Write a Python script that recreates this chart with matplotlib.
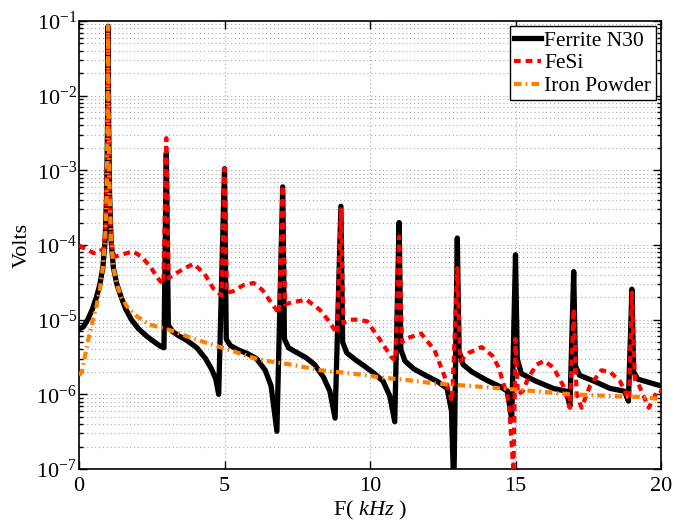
import matplotlib
matplotlib.use("Agg")
import matplotlib.pyplot as plt
from matplotlib.ticker import NullFormatter, FixedLocator, LogFormatterSciNotation

plt.rcParams['font.family'] = ['Liberation Serif', 'DejaVu Serif']
plt.rcParams['mathtext.fontset'] = 'custom'
plt.rcParams['mathtext.rm'] = 'Liberation Serif'
plt.rcParams['mathtext.it'] = 'Liberation Serif:italic'
plt.rcParams['mathtext.bf'] = 'Liberation Serif:bold'

# ---------------- data ----------------
f_ferrite = [0.00, 0.15, 0.30, 0.45, 0.60, 0.72, 0.82, 0.90, 0.95, 0.98, 1.00, 1.02, 1.05, 1.10,
             1.18, 1.30, 1.45, 1.60, 1.80, 2.05, 2.35, 2.60, 2.80, 2.92, 3.00, 3.07, 3.20, 3.45,
             3.70, 4.05, 4.35, 4.55, 4.70, 4.80, 5.00, 5.06, 5.20, 5.50, 5.80, 6.10, 6.40, 6.60,
             6.80, 7.00, 7.06, 7.20, 7.50, 7.80, 8.10, 8.40, 8.62, 8.80, 9.00, 9.06, 9.20, 9.50,
             9.80, 10.15, 10.45, 10.68, 10.85, 11.00, 11.06, 11.20, 11.50, 11.90, 12.30, 12.65,
             12.80, 12.88, 13.00, 13.06, 13.20, 13.50, 14.00, 14.50, 14.72, 14.87, 15.00, 15.06,
             15.20, 15.70, 16.30, 16.75, 16.87, 17.00, 17.06, 17.20, 17.70, 18.25, 18.75, 18.88,
             19.00, 19.06, 19.20, 19.70, 20.00]
v_ferrite = [7.5e-6, 8.0e-6, 1.0e-5, 1.35e-5, 2.0e-5, 3.0e-5, 5.0e-5, 1.2e-4, 5e-4, 4e-3, 8.5e-2, 4e-3, 5e-4, 1.2e-4,
             5.0e-5, 3.0e-5, 2.0e-5, 1.4e-5, 1.0e-5, 7.5e-6, 5.9e-6, 5.0e-6, 4.4e-6, 4.2e-6, 1.7e-3, 8.5e-6, 7.0e-6, 6.0e-6,
             5.3e-6, 4.2e-6, 3.0e-6, 2.2e-6, 1.6e-6, 1.0e-6, 1.05e-3, 5.5e-6, 4.5e-6, 3.9e-6, 3.5e-6, 3.0e-6, 2.1e-6, 1.3e-6,
             3.2e-7, 6.0e-4, 5.5e-6, 4.2e-6, 3.6e-6, 3.1e-6, 2.5e-6, 1.7e-6, 1.1e-6, 4.8e-7, 3.3e-4, 5.0e-6, 3.6e-6, 2.9e-6,
             2.4e-6, 1.9e-6, 1.5e-6, 9.5e-7, 4.3e-7, 2.0e-4, 4.0e-6, 2.8e-6, 2.2e-6, 1.8e-6, 1.5e-6, 1.2e-6,
             6e-7, 5e-8, 1.24e-4, 3.8e-6, 2.5e-6, 2.0e-6, 1.55e-6, 1.25e-6, 1.1e-6, 4.6e-7, 7.4e-5, 3.0e-6,
             1.9e-6, 1.5e-6, 1.2e-6, 1.1e-6, 6.9e-7, 4.4e-5, 2.4e-6, 1.8e-6, 1.5e-6, 1.2e-6, 1.1e-6, 8.1e-7,
             2.56e-5, 2.0e-6, 1.6e-6, 1.4e-6, 1.3e-6]

f_fesi = [0.00, 0.25, 0.50, 0.70, 0.85, 0.92, 0.96, 0.98, 1.00, 1.02, 1.04, 1.08, 1.15, 1.25, 1.50,
          1.85, 2.15, 2.45, 2.78, 2.90, 3.00, 3.08, 3.25, 3.60, 3.93, 4.30, 4.62, 4.90, 5.00, 5.08,
          5.30, 5.65, 6.00, 6.30, 6.60, 6.88, 7.00, 7.08, 7.30, 7.82, 8.28, 8.55, 8.87, 9.00, 9.08,
          9.30, 9.60, 9.90, 10.30, 10.60, 10.72, 10.88, 11.00, 11.10, 11.30, 11.76, 12.22, 12.57,
          12.82, 13.00, 13.10, 13.40, 13.84, 14.20, 14.42, 14.77, 14.93, 15.00, 15.08, 15.25, 15.45,
          15.73, 15.98, 16.30, 16.64, 16.87, 17.00, 17.10, 17.27, 17.56, 17.95, 18.25, 18.59, 18.90,
          19.00, 19.10, 19.25, 19.58, 19.90, 20.00]
v_fesi = [9.8e-5, 8.8e-5, 7.8e-5, 8.0e-5, 9.0e-5, 2e-4, 1e-3, 5e-3, 8.5e-2, 5e-3, 1e-3, 2e-4, 8e-5, 7e-5, 7.5e-5,
          8.2e-5, 7e-5, 5.1e-5, 3.3e-5, 3.0e-5, 2.7e-3, 3.6e-5, 4.0e-5, 4.8e-5, 5.6e-5, 4.2e-5, 2.6e-5, 2.1e-5, 1.05e-3, 2.3e-5,
          2.4e-5, 2.9e-5, 3.1e-5, 2.5e-5, 1.7e-5, 1.2e-5, 6.3e-4, 1.6e-5, 1.7e-5, 1.85e-5, 1.35e-5, 1.0e-5, 6.5e-6, 3.0e-4, 9e-6,
          1.0e-5, 1.0e-5, 9.5e-6, 5.7e-6, 3.8e-6, 3.2e-6, 2.8e-6, 1.3e-4, 5e-6, 5.7e-6, 6.5e-6, 3.9e-6, 1.7e-6,
          8e-7, 4.9e-5, 2.8e-6, 3.6e-6, 4.3e-6, 3.3e-6, 2.3e-6, 8e-7, 9e-8, 5.5e-6, 1.0e-6, 1.1e-6, 1.7e-6,
          2.5e-6, 2.8e-6, 2.3e-6, 1.3e-6, 6.6e-7, 1.4e-5, 1.0e-6, 6.6e-7, 1.3e-6, 2.1e-6, 2.0e-6, 1.5e-6, 8.5e-7,
          2.3e-5, 1.6e-6, 1.3e-6, 6.6e-7, 1.15e-6, 1.1e-6]

f_iron = [0.00, 0.10, 0.20, 0.30, 0.45, 0.60, 0.72, 0.82, 0.90, 0.95, 0.98, 1.00, 1.02, 1.05, 1.10,
          1.18, 1.30, 1.45, 1.70, 2.00, 2.40, 2.80, 3.10, 3.90, 5.10, 6.20, 7.30, 8.30, 9.40, 10.30,
          11.30, 12.20, 13.40, 14.50, 15.70, 16.90, 18.00, 19.20, 20.00]
v_iron = [1.8e-6, 2.0e-6, 3.2e-6, 5.0e-6, 9e-6, 1.5e-5, 2.6e-5, 5e-5, 1.2e-4, 5e-4, 4e-3, 8.5e-2, 4e-3, 5e-4, 1.2e-4,
          5e-5, 3e-5, 2e-5, 1.4e-5, 1.1e-5, 8.7e-6, 7.8e-6, 7.3e-6, 5.6e-6, 4.0e-6, 2.9e-6, 2.5e-6, 2.1e-6, 1.9e-6, 1.7e-6,
          1.55e-6, 1.4e-6, 1.3e-6, 1.2e-6, 1.1e-6, 1.0e-6, 9.6e-7, 9.2e-7, 8.7e-7]

labels = ['Ferrite N30', 'FeSi', 'Iron Powder']
x_ticks = [0, 5, 10, 15, 20]
y_decades = [-7, -6, -5, -4, -3, -2, -1]

# ---------------- figure ----------------
fig = plt.figure(figsize=(6.87, 5.22), dpi=100)
ax = fig.add_axes([79/687, 1-469/522, (661-79)/687, (469-21)/522])

ax.plot(f_ferrite, v_ferrite, color='black', lw=3.8, solid_joinstyle='round', label=labels[0], zorder=3)
ax.plot(f_fesi, v_fesi, color='#ff0000', lw=3.0, ls=(0, (1.6, 1.2)), label=labels[1], zorder=4)
ax.plot(f_iron, v_iron, color='#ff8000', lw=3.0, ls=(0, (1.8, 1.0, 0.4, 1.0)), label=labels[2], zorder=5)

ax.set_yscale('log')
ax.set_xlim(0, 20)
ax.set_ylim(1e-7, 1e-1)
ax.xaxis.set_major_locator(FixedLocator(x_ticks))
y_major = [10.0 ** d for d in y_decades]
y_minor = [m * 10.0 ** d for d in y_decades[:-1] for m in range(2, 10)]
ax.yaxis.set_major_locator(FixedLocator(y_major))
ax.yaxis.set_major_formatter(LogFormatterSciNotation())
ax.yaxis.set_minor_locator(FixedLocator(y_minor))
ax.yaxis.set_minor_formatter(NullFormatter())

ax.grid(True, which='major', axis='x', color='#a8a8a8', ls=(0, (1, 2.5)), lw=0.8)
ax.grid(True, which='both', axis='y', color='#a8a8a8', ls=(0, (1, 2.5)), lw=0.8)
ax.set_axisbelow(True)

ax.tick_params(which='both', direction='in', top=True, right=True, labelsize=16, width=1, colors='black')
ax.tick_params(which='major', length=6)
ax.tick_params(which='minor', length=3)
ax.tick_params(axis='y', which='major', pad=1.5)
ax.tick_params(axis='x', which='major', pad=6)
for s in ax.spines.values():
    s.set_linewidth(1.2)

ax.set_xlabel(r'F( $kHz$ )', fontsize=16, labelpad=2)
ax.set_ylabel('Volts', fontsize=16, labelpad=3)

leg = ax.legend(loc='upper right', fontsize=15.5, frameon=True, fancybox=False, framealpha=1,
                edgecolor='black', borderpad=0.2, handlelength=1.25, handletextpad=0.15,
                labelspacing=0.12, borderaxespad=0.25)
leg.get_frame().set_linewidth(1.0)

fig.savefig('out.png', dpi=100)
